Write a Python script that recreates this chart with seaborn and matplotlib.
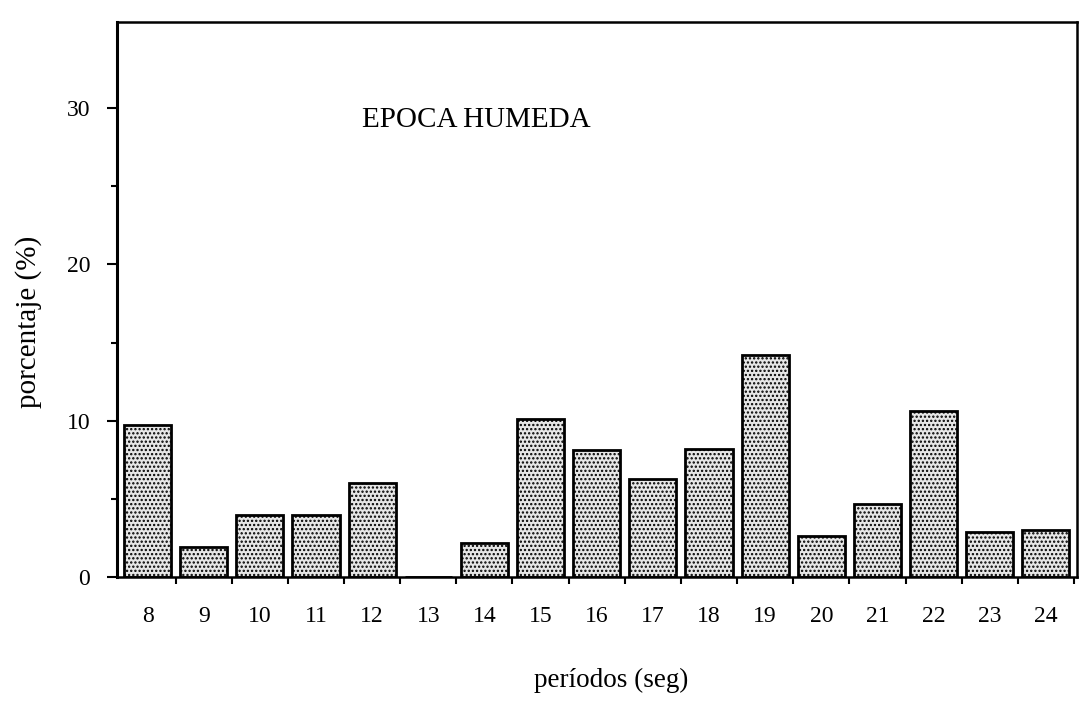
import matplotlib
matplotlib.use("Agg")
import matplotlib.pyplot as plt
import seaborn as sns
import pandas as pd
import numpy as np

periodos = ["8", "9", "10", "11", "12", "13", "14", "15", "16", "17",
            "18", "19", "20", "21", "22", "23", "24"]
porcentaje = [9.7, 1.9, 4.0, 4.0, 6.0, 0.0, 2.2, 10.1, 8.1, 6.3,
              8.2, 14.2, 2.6, 4.7, 10.6, 2.9, 3.0]
y_ticks = [0, 10, 20, 30]

sns.set_theme(style="white")
plt.rcParams["font.family"] = ["Liberation Serif", "DejaVu Serif"]
plt.rcParams["hatch.linewidth"] = 1.1
for k in ["text.color", "axes.labelcolor", "xtick.color", "ytick.color"]:
    plt.rcParams[k] = "black"

df = pd.DataFrame({"periodo": periodos, "pct": porcentaje})

fig = plt.figure(figsize=(10.8, 7.09), dpi=100)
ax = fig.add_axes([0.108, 0.186, 0.889, 0.783])

sns.barplot(data=df, x="periodo", y="pct", order=periodos, ax=ax,
            color="white", edgecolor="black", linewidth=2.0, width=0.84,
            saturation=1)
for p in ax.patches:
    p.set_hatch("....")
    p.set_facecolor("#e6e6e6")

ax.set_xlim(-0.55, len(periodos) - 0.45)
ax.set_ylim(0, 35.5)
ax.set_yticks(y_ticks)
ax.set_yticks([5, 15, 25], minor=True)
ax.set_xticks(np.arange(len(periodos)) + 0.5, minor=True)
ax.tick_params(axis="y", which="major", direction="out", length=7, width=1.5,
               labelsize=17, pad=12, left=True)
ax.tick_params(axis="y", which="minor", direction="out", length=4, width=1.5, left=True)
ax.tick_params(axis="x", which="major", length=0, labelsize=17, pad=21)
ax.tick_params(axis="x", which="minor", direction="out", length=5, width=1.5, bottom=True)

for s in ax.spines.values():
    s.set_color("black")
    s.set_linewidth(1.8)
ax.spines["left"].set_linewidth(2.2)

ax.set_xlabel("períodos (seg)", fontsize=19.5)
ax.xaxis.set_label_coords(0.515, -0.164)
ax.set_ylabel("porcentaje (%)", fontsize=21)
ax.yaxis.set_label_coords(-0.078, 0.46)
ax.text(0.256, 0.823, "EPOCA HUMEDA", transform=ax.transAxes,
        fontsize=21, ha="left", va="center")

fig.savefig("out.png", dpi=100, facecolor="white")
